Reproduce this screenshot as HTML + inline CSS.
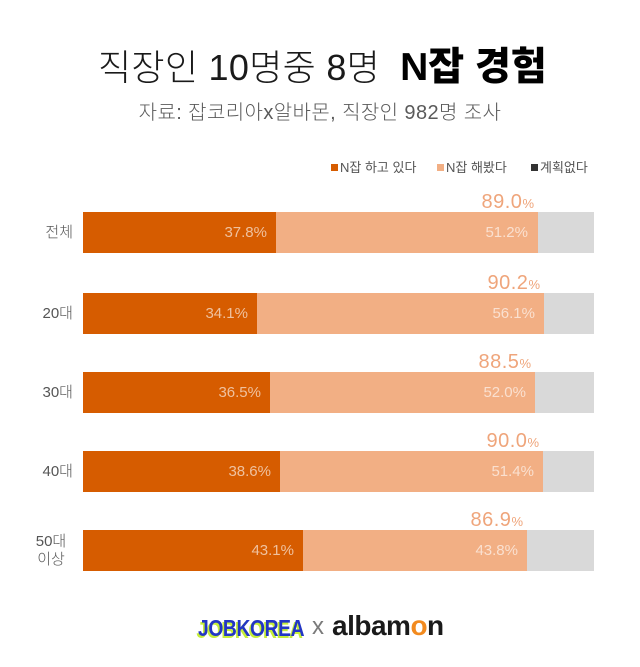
<!DOCTYPE html>
<html><head><meta charset="utf-8">
<style>
html,body{margin:0;padding:0;background:#fff;}
body{width:640px;height:667px;position:relative;overflow:hidden;font-family:"Liberation Sans","Noto Sans CJK KR",sans-serif;}
.abs{position:absolute;white-space:nowrap;}
.title{left:98px;top:44px;font-size:36px;line-height:48px;color:#1a1a1a;}
.title .thin{font-weight:300;letter-spacing:0.3px;}
.title .bold{font-weight:900;color:#000;font-size:39px;}
.sub{left:0;width:640px;top:100px;text-align:center;font-size:20px;line-height:26px;color:#5a5a5a;font-weight:300;letter-spacing:0.4px;}
.leg{top:160px;font-size:13px;line-height:16px;color:#555;}
.sq{display:inline-block;width:7px;height:7px;margin-right:2px;vertical-align:1px;}
.bar{position:absolute;height:41px;}
.d{background:#D65C00;}
.l{background:#F2AF84;}
.g{background:#D9D9D9;}
.in{position:absolute;font-size:15px;line-height:41px;height:41px;text-align:right;color:rgba(255,255,255,0.62);font-weight:300;}
.tot{position:absolute;font-size:20px;line-height:20px;text-align:right;color:#EFA57B;letter-spacing:0.5px;}
.tot small{font-size:13px;letter-spacing:0;}
.cat{position:absolute;font-size:15px;color:#555;text-align:right;width:73px;left:0;line-height:41px;height:41px;font-weight:300;}
</style></head><body>

<div class="abs title"><span class="thin">직장인 10명중 8명</span>&nbsp;&nbsp;<span class="bold">N잡 경험</span></div>
<div class="abs sub">자료: 잡코리아x알바몬, 직장인 982명 조사</div>

<div class="abs leg" style="left:331px;"><span class="sq" style="background:#D65C00"></span>N잡 하고 있다</div>
<div class="abs leg" style="left:437px;"><span class="sq" style="background:#F2AF84"></span>N잡 해봤다</div>
<div class="abs leg" style="left:531px;"><span class="sq" style="background:#333"></span>계획없다</div>

<!-- Row 1 -->
<div class="cat" style="top:212px;">전체</div>
<div class="bar g" style="left:83px;top:212px;width:511px;"></div>
<div class="bar d" style="left:83px;top:212px;width:193px;"></div>
<div class="bar l" style="left:276px;top:212px;width:262px;"></div>
<div class="in" style="left:83px;top:212px;width:184px;">37.8%</div>
<div class="in" style="left:276px;top:212px;width:252px;">51.2%</div>
<div class="tot" style="left:434px;top:192px;width:100px;">89.0<small>%</small></div>

<!-- Row 2 -->
<div class="cat" style="top:293px;">20대</div>
<div class="bar g" style="left:83px;top:293px;width:511px;"></div>
<div class="bar d" style="left:83px;top:293px;width:174px;"></div>
<div class="bar l" style="left:257px;top:293px;width:287px;"></div>
<div class="in" style="left:83px;top:293px;width:165px;">34.1%</div>
<div class="in" style="left:257px;top:293px;width:278px;">56.1%</div>
<div class="tot" style="left:440px;top:273px;width:100px;">90.2<small>%</small></div>

<!-- Row 3 -->
<div class="cat" style="top:372px;">30대</div>
<div class="bar g" style="left:83px;top:372px;width:511px;"></div>
<div class="bar d" style="left:83px;top:372px;width:187px;"></div>
<div class="bar l" style="left:270px;top:372px;width:265px;"></div>
<div class="in" style="left:83px;top:372px;width:178px;">36.5%</div>
<div class="in" style="left:270px;top:372px;width:256px;">52.0%</div>
<div class="tot" style="left:431px;top:352px;width:100px;">88.5<small>%</small></div>

<!-- Row 4 -->
<div class="cat" style="top:451px;">40대</div>
<div class="bar g" style="left:83px;top:451px;width:511px;"></div>
<div class="bar d" style="left:83px;top:451px;width:197px;"></div>
<div class="bar l" style="left:280px;top:451px;width:263px;"></div>
<div class="in" style="left:83px;top:451px;width:188px;">38.6%</div>
<div class="in" style="left:280px;top:451px;width:254px;">51.4%</div>
<div class="tot" style="left:439px;top:431px;width:100px;">90.0<small>%</small></div>

<!-- Row 5 -->
<div class="abs" style="left:26px;width:50px;top:533px;text-align:center;font-size:15px;line-height:18px;color:#555;font-weight:300;">50대<br>이상</div>
<div class="bar g" style="left:83px;top:530px;width:511px;"></div>
<div class="bar d" style="left:83px;top:530px;width:220px;"></div>
<div class="bar l" style="left:303px;top:530px;width:224px;"></div>
<div class="in" style="left:83px;top:530px;width:211px;">43.1%</div>
<div class="in" style="left:303px;top:530px;width:215px;">43.8%</div>
<div class="tot" style="left:423px;top:510px;width:100px;">86.9<small>%</small></div>

<!-- Logos -->
<div class="abs" style="left:198px;top:615px;font-size:23px;line-height:26px;font-weight:900;color:#2336C4;letter-spacing:-0.5px;transform:scaleX(0.84);transform-origin:left center;text-shadow:-2px 2px 0 #C6EE3A;">JOBKOREA</div>
<div class="abs" style="left:312px;top:612px;font-size:24px;line-height:30px;color:#7a7a7a;">x</div>
<div class="abs" style="left:332px;top:610px;font-size:28px;line-height:32px;font-weight:700;color:#1a1a1a;letter-spacing:-0.5px;">alba<span>m</span><span style="color:#F28A1E;">o</span>n</div>

</body></html>
